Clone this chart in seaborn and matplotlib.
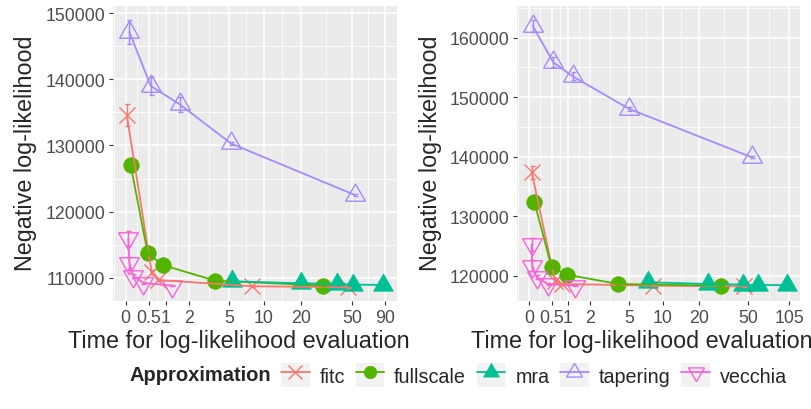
import numpy as np
import pandas as pd
import matplotlib

matplotlib.use("Agg")
import matplotlib.pyplot as plt
import seaborn as sns
from matplotlib.lines import Line2D
from matplotlib.patches import Rectangle
from matplotlib.legend_handler import HandlerLine2D

approximations = ["fitc", "fullscale", "mra", "tapering", "vecchia"]

# left panel: time (s) / negative log-likelihood / error bar half-width
fitc_time_a = [0.018, 0.57, 0.76, 8.0, 46.5]
fitc_nll_a = [134650, 110820, 109650, 108700, 108550]
fitc_sd_a = [1650, 300, 200, 100, 100]
fullscale_time_a = [0.091, 0.466, 0.90, 3.73, 30.1]
fullscale_nll_a = [126970, 113700, 111920, 109550, 108790]
fullscale_sd_a = [150, 150, 100, 100, 100]
mra_time_a = [5.38, 20.1, 38.2, 51.4, 87.3]
mra_nll_a = [109450, 109150, 109050, 108950, 108900]
mra_sd_a = [100, 100, 100, 100, 100]
tapering_time_a = [0.065, 0.545, 1.57, 5.24, 52.9]
tapering_nll_a = [147200, 139000, 136200, 130300, 122500]
tapering_sd_a = [1850, 1400, 1200, 300, 150]
vecchia_time_a = [0.046, 0.065, 0.14, 0.36, 1.23]
vecchia_nll_a = [115950, 112240, 110300, 109210, 108800]
vecchia_sd_a = [1100, 900, 300, 150, 100]

# right panel
fitc_time_b = [0.05, 0.59, 0.80, 8.3, 46.2]
fitc_nll_b = [137400, 119200, 118660, 118370, 118270]
fitc_sd_b = [1100, 300, 200, 100, 100]
fullscale_time_b = [0.10, 0.50, 0.96, 3.96, 30.1]
fullscale_nll_b = [132470, 121460, 120220, 118660, 118370]
fullscale_sd_b = [150, 150, 100, 100, 100]
mra_time_b = [7.5, 23.9, 45.7, 60.1, 100.3]
mra_nll_b = [118950, 118650, 118550, 118500, 118450]
mra_sd_b = [100, 100, 100, 100, 100]
tapering_time_b = [0.069, 0.546, 1.19, 5.05, 53.3]
tapering_nll_b = [161950, 155860, 153500, 148020, 139920]
tapering_sd_b = [1000, 800, 700, 300, 150]
vecchia_time_b = [0.05, 0.06, 0.148, 0.40, 1.28]
vecchia_nll_b = [125300, 121700, 119780, 118660, 118370]
vecchia_sd_b = [1150, 900, 300, 150, 100]

xticks_a = [0, 0.5, 1, 2, 5, 10, 20, 50, 90]
xticks_b = [0, 0.5, 1, 2, 5, 10, 20, 50, 105]
yticks_a = [110000, 120000, 130000, 140000, 150000]
yticks_b = [120000, 130000, 140000, 150000, 160000]


def build_frame(suffix):
    g = globals()
    rows = []
    for name in approximations:
        for t, v, s in zip(g[f"{name}_time_{suffix}"], g[f"{name}_nll_{suffix}"],
                           g[f"{name}_sd_{suffix}"]):
            rows.append({"approx": name, "time": t, "nll": v, "sd": s})
    return pd.DataFrame(rows)


palette = {"fitc": "#F8766D", "fullscale": "#53B400", "mra": "#00C094",
           "tapering": "#A58AFF", "vecchia": "#FB61D7"}
mstyle = {
    "fitc": dict(marker="x", markersize=12, markeredgewidth=1.0, fill=False),
    "fullscale": dict(marker="o", markersize=11.2, markeredgewidth=0.5, fill=True),
    "mra": dict(marker=(3, 0, 0), markersize=16.5, markeredgewidth=0.5, fill=True),
    "tapering": dict(marker=(3, 0, 0), markersize=16.5, markeredgewidth=1.0, fill=False),
    "vecchia": dict(marker=(3, 0, 180), markersize=16.5, markeredgewidth=1.0, fill=False),
}

sns.set_theme(style="darkgrid")
plt.rcParams["font.family"] = ["Liberation Sans", "DejaVu Sans"]

W, H = 811, 410
fig = plt.figure(figsize=(W / 100, H / 100), dpi=100)
fig.patch.set_facecolor("white")


def minor_between(vals, lo, hi, fwd=lambda v: v, inv=lambda v: v):
    b = np.array([fwd(v) for v in vals], dtype=float)
    bd = b[1] - b[0]
    lo_t, hi_t = fwd(lo), fwd(hi)
    if lo_t < b[0]:
        b = np.r_[b[0] - bd, b]
    if hi_t > b[-1]:
        b = np.r_[b, b[-1] + bd]
    mids = (b[:-1] + b[1:]) / 2
    mids = mids[(mids > lo_t) & (mids < hi_t)]
    return [inv(m) for m in mids]


def draw_panel(ax, df, xticks, yticks, xlim, ylim, xlab_x, ylab_x):
    ax.set_facecolor("#EBEBEB")
    ax.set_xscale("function", functions=(np.log1p, np.expm1))
    for name in approximations:
        sub = df[df["approx"] == name]
        st = mstyle[name]
        c = palette[name]
        sns.lineplot(data=sub, x="time", y="nll", ax=ax, linestyle="none",
                     marker=st["marker"], markersize=st["markersize"],
                     markerfacecolor=c if st["fill"] else "none",
                     markeredgecolor=c, markeredgewidth=st["markeredgewidth"],
                     estimator=None, legend=False, zorder=3)
    sns.lineplot(data=df, x="time", y="nll", hue="approx", palette=palette,
                 estimator=None, sort=True, legend=False, lw=1.3, ax=ax, zorder=4)
    for name in approximations:
        sub = df[df["approx"] == name]
        ax.errorbar(sub["time"], sub["nll"], yerr=sub["sd"], fmt="none",
                    ecolor=palette[name], elinewidth=1.0, capsize=1.8,
                    capthick=1.0, zorder=5)
    ax.set_xlim(*xlim)
    ax.set_ylim(*ylim)
    ax.set_xticks(xticks)
    ax.set_xticklabels([f"{v:g}" for v in xticks])
    ax.set_yticks(yticks)
    ax.set_yticklabels([str(v) for v in yticks])
    ax.set_xticks(minor_between(xticks, xlim[0], xlim[1], np.log1p, np.expm1), minor=True)
    ax.set_yticks(minor_between(yticks, ylim[0], ylim[1]), minor=True)
    ax.grid(which="major", color="white", lw=1.1)
    ax.grid(which="minor", color="white", lw=0.55)
    ax.set_axisbelow(True)
    for sp in ax.spines.values():
        sp.set_visible(False)
    ax.tick_params(which="major", length=3.2, width=0.8, color="#333333",
                   labelcolor="#4D4D4D", labelsize=12.8, pad=2.6,
                   bottom=True, left=True)
    ax.tick_params(which="minor", length=0)
    ax.set_xlabel("Time for log-likelihood evaluation", fontsize=16.8)
    ax.set_ylabel("Negative log-likelihood", fontsize=16.8)
    ax.xaxis.set_label_coords(xlab_x, -0.095)
    ax.yaxis.set_label_coords(ylab_x, 0.505)


ax_a = fig.add_axes([113 / W, 1 - 302 / H, (397 - 113) / W, (302 - 7) / H])
ax_b = fig.add_axes([517 / W, 1 - 302 / H, (800 - 517) / W, (302 - 7) / H])

draw_panel(ax_a, build_frame("a"), xticks_a, yticks_a,
           (np.expm1(-0.221), np.expm1(4.718)), (106470, 151100), 0.444, -0.268)
draw_panel(ax_b, build_frame("b"), xticks_b, yticks_b,
           (np.expm1(-0.215), np.expm1(4.86)), (115800, 165300), 0.44, -0.265)


class KeyBox(HandlerLine2D):
    def create_artists(self, legend, orig_handle, xdescent, ydescent,
                       width, height, fontsize, trans):
        box = Rectangle((-xdescent, -ydescent), width, height,
                        facecolor="#F2F2F2", edgecolor="none", transform=trans)
        arts = super().create_artists(legend, orig_handle, xdescent, ydescent,
                                      width, height, fontsize, trans)
        return [box] + list(arts)


handles = []
for name in approximations:
    st = mstyle[name]
    c = palette[name]
    handles.append(Line2D([], [], color=c, lw=1.3, marker=st["marker"],
                          markersize=st["markersize"] * 0.8,
                          markerfacecolor=c if st["fill"] else "none",
                          markeredgecolor=c, markeredgewidth=st["markeredgewidth"]))

fig.text(130 / W, 1 - 376 / H, "Approximation", fontsize=14.5, fontweight="bold",
         ha="left", va="center")
leg = fig.legend(handles, approximations, loc="center left",
                 bbox_to_anchor=(281 / W, 1 - 376 / H), ncol=5, frameon=False,
                 fontsize=14.2, handlelength=1.45, handleheight=1.45,
                 handletextpad=0.5, columnspacing=0.55, borderpad=0, borderaxespad=0,
                 handler_map={Line2D: KeyBox(numpoints=1)})

fig.savefig("out.png", dpi=100, facecolor="white")
